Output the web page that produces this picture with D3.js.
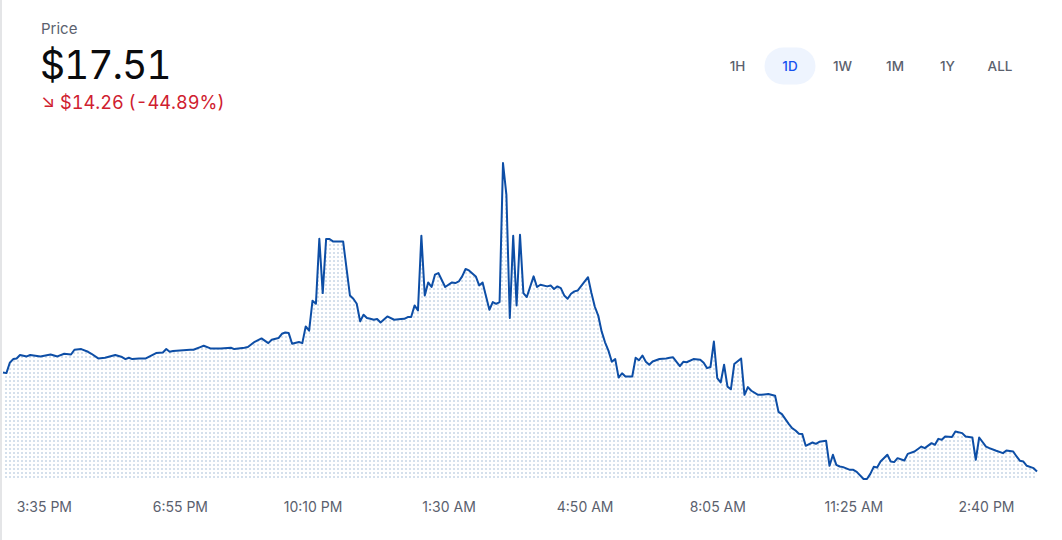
<!DOCTYPE html>
<html>
<head>
<meta charset="utf-8">
<script src="https://cdn.jsdelivr.net/npm/d3@7"></script>
<style>
  html, body { margin: 0; padding: 0; background: #fff; }
  body { width: 1062px; height: 540px; overflow: hidden; font-family: Inter, "Noto Sans", sans-serif; }
  svg { display: block; }
  .num { font-variant-numeric: tabular-nums; font-feature-settings: "tnum"; }
</style>
</head>
<body>
<div id="chart"></div>
<script>

///////////////////////////////////////////////////
//
//				Price Chart (1D)
//
///////////////////////////////////////////////////

// header values
var currentPrice = "$17.51";
var priceChange = "\u2198 $14.26 (-44.89%)";
var ranges = ["1H", "1D", "1W", "1M", "1Y", "ALL"];
var activeRange = "1D";

// series start and step (5 minute candles)
var startTime = "2:35 PM";
var stepMinutes = 5;

// [step, price]
var priceSeries = [
  [0,31.77],[1,31.67],[2,33.16],[3,33.69],[4,33.78],[5,34.27],[7,34.07],[8,34.27],[11,34.07],[14,34.35],
  [16,34.07],[18,34.45],[20,34.35],[21,35.03],[23,35.13],[25,34.74],[26,34.45],[28,33.78],[30,33.88],[33,34.27],
  [35,33.98],[36,33.69],[37,33.88],[38,33.69],[40,33.78],[42,33.78],[45,34.55],[47,34.64],[48,35.13],[49,34.74],
  [50,34.84],[52,34.93],[55,35.03],[56,35.03],[58,35.42],[59,35.61],[61,35.22],[64,35.22],[67,35.32],[68,35.13],
  [71,35.32],[72,35.42],[74,36.18],[76,36.66],[78,35.99],[79,36.47],[81,36.71],[82,37.33],[83,37.52],[84,37.43],
  [85,35.89],[87,36.14],[88,35.99],[89,38.39],[90,37.77],[91,42.09],[92,41.65],[93,51.01],[94,43.19],[95,50.97],
  [96,50.97],[97,50.63],[99,50.63],[100,50.63],[102,42.85],[103,42.37],[104,41.65],[105,39.11],[106,40.07],[107,39.59],
  [108,39.49],[109,39.35],[110,39.45],[111,38.96],[113,39.83],[115,39.35],[117,39.45],[118,39.49],[119,39.74],[120,39.74],
  [121,41.41],[122,40.69],[123,51.45],[124,42.85],[125,44.72],[126,44.06],[127,45.83],[128,46.07],[130,44.06],[132,44.72],
  [133,44.63],[134,44.86],[135,45.59],[136,46.65],[137,46.45],[139,45.59],[140,44.29],[141,44.72],[143,40.79],[144,41.90],
  [145,41.65],[146,41.90],[147,61.91],[148,57.35],[149,39.59],[150,51.45],[151,41.41],[152,51.59],[153,43.19],[154,42.62],
  [156,45.59],[157,44.06],[158,44.39],[160,44.15],[161,44.29],[162,43.77],[163,44.15],[164,43.91],[165,42.85],[166,42.37],
  [167,43.09],[168,43.43],[169,43.57],[172,45.47],[173,43.19],[174,41.22],[175,39.95],[176,37.67],[177,36.11],[178,34.91],
  [179,33.30],[180,33.69],[181,31.03],[182,31.65],[183,31.19],[185,31.19],[186,33.88],[187,33.52],[188,34.21],[189,33.30],
  [190,32.87],[191,33.35],[193,33.71],[195,33.78],[196,33.88],[197,33.95],[199,32.68],[200,33.30],[201,33.23],[203,33.69],
  [205,33.59],[206,33.16],[207,32.39],[208,32.55],[209,36.21],[210,30.95],[211,30.32],[212,32.87],[213,29.72],[214,29.34],
  [215,32.99],[217,33.78],[218,28.55],[219,29.66],[220,29.13],[222,28.55],[223,28.55],[225,28.65],[227,28.41],[228,26.10],
  [229,25.77],[231,24.37],[232,23.75],[233,23.41],[234,22.93],[235,22.89],[236,21.21],[238,21.68],[239,21.49],[240,21.78],
  [242,21.93],[243,18.33],[244,19.91],[245,18.47],[246,18.23],[247,18.14],[249,17.75],[250,17.75],[251,17.46],[253,16.43],
  [254,16.43],[255,17.17],[256,18.18],[257,18.08],[258,18.94],[260,19.91],[261,18.94],[262,18.86],[263,19.43],[265,19.09],
  [266,20.05],[268,20.38],[270,21.10],[271,20.87],[273,21.59],[274,21.35],[275,22.21],[276,22.07],[277,22.54],[279,22.46],
  [280,23.27],[282,23.03],[283,22.54],[285,22.40],[286,19.19],[287,22.40],[289,21.10],[290,20.87],[292,20.49],[294,20.15],
  [295,20.53],[297,20.38],[298,19.67],[299,19.05],[300,18.94],[301,18.33],[303,17.99],[304,17.51]
];

// x axis tick labels
var tickLabels = ["3:35 PM", "6:55 PM", "10:10 PM", "1:30 AM", "4:50 AM", "8:05 AM", "11:25 AM", "2:40 PM"];

// set sizes
var width = 1062,
    height = 540,
    plot = {left: 3, right: 1037, top: 163, bottom: 480};

// parse times, rolling over midnight
var parseTime = d3.timeParse("%I:%M %p");
var start = parseTime(startTime);

var toDate = function(step) {
  return d3.timeMinute.offset(start, step * stepMinutes);
};

var data = priceSeries.map(function(d) {
  return {date: toDate(d[0]), price: d[1]};
});

var tickDates = [];
var dayOffset = 0;
tickLabels.forEach(function(t, i) {
  var t0 = parseTime(t);
  if (t0 < start && dayOffset == 0) { dayOffset = 1; }
  tickDates.push(d3.timeDay.offset(t0, dayOffset));
});

// make scales
var xScale = d3.scaleTime()
  .domain(d3.extent(data, function(d) {return d.date;}))
  .range([plot.left, plot.right]);

var yScale = d3.scaleLinear()
  .domain(d3.extent(data, function(d) {return d.price;}))
  .range([plot.bottom - 1, plot.top]);

// add svg element
var svg = d3.select("#chart")
  .append("svg")
  .attr("width", width)
  .attr("height", height);

// left border of the card
svg.append("rect")
  .attr("x", 0)
  .attr("y", 0)
  .attr("width", 2)
  .attr("height", height)
  .style("fill", "#e4e5e7");

// dotted fill pattern
var defs = svg.append("defs");
var pattern = defs.append("pattern")
  .attr("id", "dots")
  .attr("patternUnits", "userSpaceOnUse")
  .attr("x", 1)
  .attr("y", 0)
  .attr("width", 4)
  .attr("height", 4);

pattern.append("rect")
  .attr("x", 0)
  .attr("y", 0)
  .attr("width", 2)
  .attr("height", 2)
  .style("fill", "#d5e0ec");

/////////////////////////////////////////////////
//
//			Header
//
/////////////////////////////////////////////////

svg.append("text")
  .attr("x", 41)
  .attr("y", 34)
  .style("font-size", "15px")
  .style("fill", "#5b616e")
  .text("Price");

svg.append("text")
  .attr("class", "num")
  .attr("x", 40)
  .attr("y", 79)
  .style("font-size", "39px")
  .style("fill", "#0a0b0d")
  .style("letter-spacing", "-1px")
  .text(currentPrice);

svg.append("text")
  .attr("class", "num")
  .attr("x", 41)
  .attr("y", 109)
  .style("font-size", "18.2px")
  .style("fill", "#cf202f")
  .text(priceChange);

// range buttons
var buttonX = d3.scalePoint()
  .domain(ranges)
  .range([737.5, 1000]);

var buttons = svg.selectAll(".range")
  .data(ranges)
  .enter()
  .append("g")
  .attr("class", "range")
  .attr("transform", function(d) {return "translate(" + buttonX(d) + ", 66)";});

buttons.filter(function(d) {return d == activeRange;})
  .append("rect")
  .attr("x", -25.5)
  .attr("y", -18.5)
  .attr("width", 51)
  .attr("height", 37)
  .attr("rx", 18.5)
  .style("fill", "#eef4fe");

buttons.append("text")
  .attr("text-anchor", "middle")
  .attr("y", 5)
  .style("font-size", "13.5px")
  .style("font-weight", 500)
  .style("fill", function(d) {return d == activeRange ? "#1652f0" : "#5b616e";})
  .text(function(d) {return d;});

/////////////////////////////////////////////////
//
//			Line + Area
//
/////////////////////////////////////////////////

var area = d3.area()
  .x(function(d) {return xScale(d.date);})
  .y0(plot.bottom)
  .y1(function(d) {return yScale(d.price);});

var line = d3.line()
  .x(function(d) {return xScale(d.date);})
  .y(function(d) {return yScale(d.price);});

svg.append("path")
  .datum(data)
  .attr("d", area)
  .style("fill", "url(#dots)");

svg.append("path")
  .datum(data)
  .attr("d", line)
  .style("fill", "none")
  .style("stroke", "#0d4ea6")
  .style("stroke-width", 2)
  .style("stroke-linejoin", "round");

// x axis
var xAxis = d3.axisBottom(xScale)
  .tickValues(tickDates)
  .tickFormat(function(d, i) {return tickLabels[i];})
  .tickSize(0)
  .tickPadding(22);

var gx = svg.append("g")
  .attr("transform", "translate(0," + plot.bottom + ")")
  .call(xAxis);

gx.select(".domain").remove();
gx.selectAll("text")
  .style("font-family", "Inter, 'Noto Sans', sans-serif")
  .style("font-size", "14px")
  .style("fill", "#5b616e");

</script>
</body>
</html>
